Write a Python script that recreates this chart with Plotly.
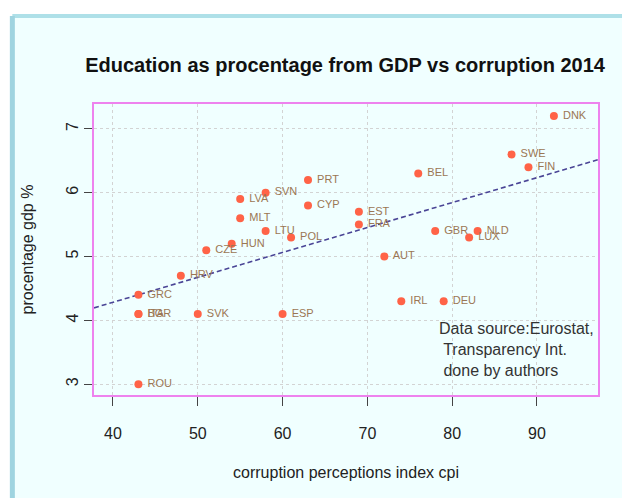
import numpy as np
import plotly.graph_objects as go

countries = ["DNK", "SWE", "FIN", "BEL", "PRT", "CYP", "SVN", "LVA", "MLT", "LTU",
             "POL", "HUN", "CZE", "HRV", "GRC", "BGR", "ITA", "SVK", "ESP", "ROU",
             "EST", "FRA", "AUT", "GBR", "NLD", "LUX", "IRL", "DEU"]
cpi = [92, 87, 89, 76, 63, 63, 58, 55, 55, 58,
       61, 54, 51, 48, 43, 43, 43, 50, 60, 43,
       69, 69, 72, 78, 83, 82, 74, 79]
gdp_pct = [7.2, 6.6, 6.4, 6.3, 6.2, 5.8, 6.0, 5.9, 5.6, 5.4,
           5.3, 5.2, 5.1, 4.7, 4.4, 4.1, 4.1, 4.1, 4.1, 3.0,
           5.7, 5.5, 5.0, 5.4, 5.4, 5.3, 4.3, 4.3]

x_ticks = [40, 50, 60, 70, 80, 90]
y_ticks = [3, 4, 5, 6, 7]
x_range = [37.76, 97.2]
y_range = [2.83, 7.39]

slope, intercept = np.polyfit(cpi, gdp_pct, 1)
fit_x = np.array(x_range)
fit_y = intercept + slope * fit_x

FONT = "Liberation Sans, Arial, sans-serif"

fig = go.Figure()

fig.add_trace(
    go.Scatter(
        x=fit_x,
        y=fit_y,
        mode="lines",
        line={"color": "#4a4596", "width": 1.6, "dash": "5px,3px"},
        hoverinfo="skip",
    )
)
fig.add_trace(
    go.Scatter(
        x=cpi,
        y=gdp_pct,
        mode="markers+text",
        marker={"color": "#ff6347", "size": 8},
        text=countries,
        texttemplate=" %{text}",
        textposition="middle right",
        textfont={"family": FONT, "size": 11, "color": "#9b7653"},
        hovertemplate="%{text}: %{x}, %{y}<extra></extra>",
    )
)

# page frame: white strip on top/left, light blue border, azure panel
fig.add_shape(type="rect", xref="paper", yref="paper", x0=-0.3, x1=1.2, y0=1.3, y1=1.7,
              fillcolor="white", line={"width": 0}, layer="below")
fig.add_shape(type="rect", xref="paper", yref="paper", x0=-0.3, x1=-0.165, y0=-0.5, y1=1.7,
              fillcolor="white", line={"width": 0}, layer="below")
fig.add_shape(type="line", xref="paper", yref="paper", x0=-0.162, x1=1.2, y0=1.302, y1=1.302,
              line={"color": "#aee0e8", "width": 4}, layer="below")
fig.add_shape(type="line", xref="paper", yref="paper", x0=-0.162, x1=-0.162, y0=-0.5, y1=1.302,
              line={"color": "#9fd4e0", "width": 5}, layer="below")

fig.add_annotation(
    x=0.996, y=0.158, xref="paper", yref="paper", xanchor="right", yanchor="middle",
    align="left", showarrow=False,
    text="Data source:Eurostat,<br> Transparency Int.<br> done by authors",
    font={"family": FONT, "size": 16, "color": "#333333"},
)

fig.update_layout(
    width=630,
    height=498,
    margin={"l": 86, "r": 40, "t": 96, "b": 111},
    paper_bgcolor="#f0ffff",
    plot_bgcolor="#f0ffff",
    showlegend=False,
    font={"family": FONT, "color": "#222222"},
    title={
        "text": "<b>Education as procentage from GDP vs corruption 2014</b>",
        "x": 0.535, "xanchor": "center", "y": 0.885, "yanchor": "middle",
        "font": {"size": 20, "color": "#111111"},
    },
    xaxis={
        "range": x_range,
        "tickvals": x_ticks,
        "ticks": "outside",
        "ticklen": 9,
        "tickcolor": "#444444",
        "ticklabelstandoff": 14,
        "tickfont": {"size": 16},
        "showgrid": True,
        "gridcolor": "#d3d3d3",
        "griddash": "dot",
        "zeroline": False,
        "showline": True,
        "linecolor": "#ee82ee",
        "linewidth": 2,
        "mirror": True,
        "title": {"text": "corruption perceptions index cpi", "font": {"size": 16},
                  "standoff": 26},
    },
    yaxis={
        "range": y_range,
        "tickvals": y_ticks,
        "ticks": "outside",
        "ticklen": 8,
        "tickcolor": "#444444",
        "tickangle": -90,
        "tickfont": {"size": 16},
        "showgrid": True,
        "gridcolor": "#d3d3d3",
        "griddash": "dot",
        "zeroline": False,
        "showline": True,
        "linecolor": "#ee82ee",
        "linewidth": 2,
        "mirror": True,
        "title": {"text": "procentage gdp %", "font": {"size": 16}, "standoff": 26},
    },
)

fig.write_html("out.html")
